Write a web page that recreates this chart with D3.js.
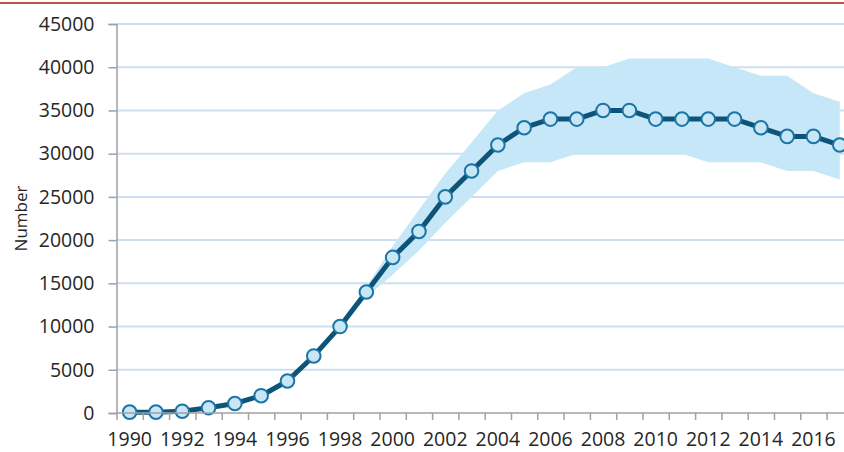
<!DOCTYPE html>
<html>
<head>
<meta charset="utf-8">
<script src="https://cdn.jsdelivr.net/npm/d3@7"></script>
<style>
  html, body { margin: 0; padding: 0; background: #fff; }
  svg { display: block; }
  text { font-family: "Open Sans", "DejaVu Sans", sans-serif; fill: #262626; }
</style>
</head>
<body>
<svg id="chart" width="844" height="452"></svg>
<script>
// Annual counts with uncertainty interval
const years = d3.range(1990, 2018);
const estimate = [100, 100, 200, 600, 1100, 2000, 3700, 6600, 10000, 14000,
                  18000, 21000, 25000, 28000, 31000, 33000, 34000, 34000, 35000, 35000,
                  34000, 34000, 34000, 34000, 33000, 32000, 32000, 31000];
const lower    = [100, 100, 200, 600, 1100, 2000, 3600, 6400, 9800, 13400,
                  16000, 18800, 22000, 25000, 28000, 29000, 29000, 30000, 30000, 30000,
                  30000, 30000, 29000, 29000, 29000, 28000, 28000, 27000];
const upper    = [100, 100, 200, 600, 1100, 2000, 3800, 6800, 10400, 14600,
                  19300, 23500, 27700, 31300, 35000, 37000, 38000, 40000, 40000, 41000,
                  41000, 41000, 41000, 40000, 39000, 39000, 37000, 36000];
const yTicks = [0, 5000, 10000, 15000, 20000, 25000, 30000, 35000, 40000, 45000];
const xLabelYears = d3.range(1990, 2017, 2);

const W = 844, H = 452;
const plotLeft = 116.5, plotRight = 844, plotTop = 24, plotBottom = 413;
const step = 26.3;

const svg = d3.select("#chart");

// Thin red rule across the top
svg.append("line")
  .attr("x1", 0).attr("x2", W).attr("y1", 3).attr("y2", 3)
  .attr("stroke", "#c0504d").attr("stroke-width", 2);

const x = d3.scaleLinear()
  .domain([1989.5, 2017.5])
  .range([plotLeft, plotLeft + 28 * step]);
const y = d3.scaleLinear().domain([0, 45000]).range([plotBottom, plotTop]);

// Horizontal gridlines
svg.append("g")
  .selectAll("line")
  .data(yTicks.filter(d => d > 0))
  .join("line")
  .attr("x1", plotLeft).attr("x2", plotRight)
  .attr("y1", d => y(d)).attr("y2", d => y(d))
  .attr("stroke", "#cddff2").attr("stroke-width", 2);

const plot = svg.append("g");
const rows = years.map((yr, i) => ({ yr, v: estimate[i], lo: lower[i], hi: upper[i] }));

// Uncertainty band
plot.append("path")
  .datum(rows)
  .attr("fill", "#c6e7f7")
  .attr("d", d3.area().x(d => x(d.yr)).y0(d => y(d.lo)).y1(d => y(d.hi)));

// Estimate line
plot.append("path")
  .datum(rows)
  .attr("fill", "none")
  .attr("stroke", "#0e5478")
  .attr("stroke-width", 5)
  .attr("stroke-linejoin", "round")
  .attr("d", d3.line().x(d => x(d.yr)).y(d => y(d.v)));

// Markers
plot.selectAll("circle")
  .data(rows)
  .join("circle")
  .attr("cx", d => x(d.yr)).attr("cy", d => y(d.v))
  .attr("r", 6.8)
  .attr("fill", "#c7e6f6")
  .attr("stroke", "#1a75a6")
  .attr("stroke-width", 2);

// Y axis
const yAxis = svg.append("g")
  .attr("transform", `translate(${plotLeft},0)`)
  .call(d3.axisLeft(y).tickValues(yTicks).tickSize(8).tickPadding(14).tickFormat(d3.format("d")));
yAxis.select(".domain").attr("stroke", "#a0a0a0").attr("stroke-width", 1.5);
yAxis.selectAll(".tick line").attr("stroke", "#a0a0a0").attr("stroke-width", 1.5);
yAxis.selectAll(".tick text").attr("font-size", 19.5).attr("fill", "#262626")
  .attr("font-family", "'Open Sans', sans-serif");

// X axis: tick marks on category boundaries, labels every second year
const xAxis = svg.append("g")
  .attr("transform", `translate(0,${plotBottom})`)
  .call(d3.axisBottom(x).tickValues(d3.range(1989.5, 2018, 1)).tickSize(7).tickFormat(""));
xAxis.select(".domain").attr("stroke", "#a0a0a0").attr("stroke-width", 1.5)
  .attr("d", `M${plotLeft},0H${plotRight}`);
xAxis.selectAll(".tick line").attr("stroke", "#a0a0a0").attr("stroke-width", 1.5);

svg.append("g")
  .selectAll("text")
  .data(xLabelYears)
  .join("text")
  .attr("x", d => x(d))
  .attr("y", 446)
  .attr("text-anchor", "middle")
  .attr("font-size", 19.5)
  .text(d => d);

// Y axis title
svg.append("text")
  .attr("transform", `translate(27,${(plotTop + plotBottom) / 2}) rotate(-90)`)
  .attr("text-anchor", "middle")
  .attr("font-size", 17)
  .text("Number");
</script>
</body>
</html>
